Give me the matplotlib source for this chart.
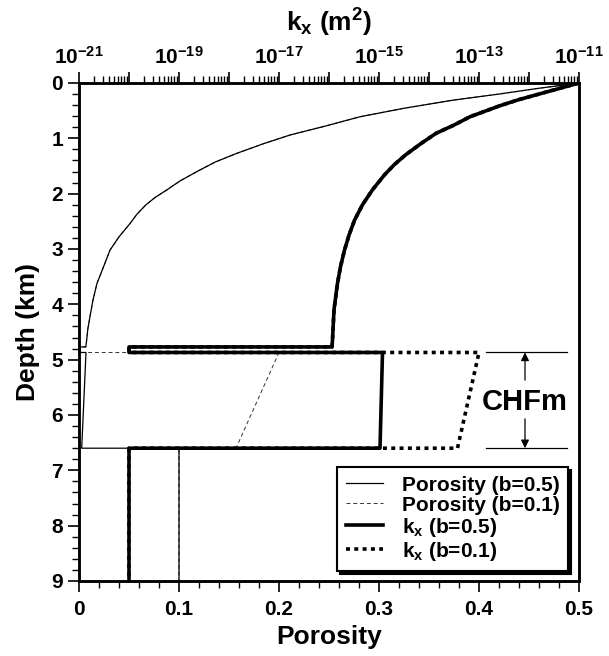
import matplotlib
matplotlib.use('Agg')
import matplotlib.pyplot as plt
import numpy as np
from matplotlib.ticker import FixedLocator, FuncFormatter, MultipleLocator
from matplotlib.lines import Line2D

plt.rcParams['font.family'] = ['Liberation Sans', 'DejaVu Sans']
plt.rcParams['font.weight'] = 'bold'
plt.rcParams['axes.labelweight'] = 'bold'
plt.rcParams['mathtext.fontset'] = 'custom'
plt.rcParams['mathtext.rm'] = 'Liberation Sans:bold'
plt.rcParams['mathtext.bf'] = 'Liberation Sans:bold'
plt.rcParams['mathtext.it'] = 'Liberation Sans:bold'
plt.rcParams['mathtext.sf'] = 'Liberation Sans:bold'
plt.rcParams['mathtext.default'] = 'regular'

# ---------------- data ----------------
# porosity above the seal (same for both b values)
depth_phi_upper = [0.0, 0.1, 0.2, 0.31, 0.46, 0.61, 0.78, 0.94, 1.1, 1.27, 1.43,
                   1.6, 1.77, 1.93, 2.07, 2.2, 2.37, 2.54, 2.78, 3.02, 3.3, 3.62,
                   3.92, 4.22, 4.45, 4.64, 4.77]
phi_upper = [0.5, 0.458, 0.42, 0.374, 0.324, 0.281, 0.246, 0.211, 0.184, 0.158, 0.136,
             0.118, 0.101, 0.088, 0.076, 0.067, 0.058, 0.051, 0.040, 0.031, 0.025, 0.018,
             0.014, 0.011, 0.0088, 0.0077, 0.0068]
# log10 permeability above the seal (same for both b values)
depth_k_upper = [0.0, 0.1, 0.2, 0.3, 0.41, 0.61, 0.76, 0.91, 1.1, 1.30, 1.48, 1.66,
                 1.93, 2.2, 2.48, 2.75, 3.02, 3.32, 3.62, 4.10, 4.64, 4.77]
logk_upper = [-11.0, -11.4, -11.8, -12.2, -12.58, -13.18, -13.5, -13.86, -14.17, -14.47,
              -14.7, -14.89, -15.13, -15.33, -15.49, -15.6, -15.69, -15.77, -15.83,
              -15.90, -15.93, -15.94]

z_seal_top = 4.77
z_chf_top = 4.87
z_chf_bot = 6.6
z_max = 9.0

phi_seal = 0.001
phi_chf_b05 = [0.007, 0.0027]
phi_chf_b01 = [0.2, 0.157]
phi_below = 0.1

logk_seal = -20.0
logk_chf_b05 = [-14.93, -14.98]
logk_chf_b01 = [-13.0, -13.43]
logk_below = -20.0

labels = ['Porosity (b=0.5)', 'Porosity (b=0.1)',
          r'k$_\mathregular{x}$ (b=0.5)', r'k$_\mathregular{x}$ (b=0.1)']

# ---------------- build profiles ----------------
tail_depth = [z_seal_top, z_chf_top, z_chf_top, z_chf_bot, z_chf_bot, z_max]


def phi_profile(chf):
    return phi_upper + [phi_seal, phi_seal, chf[0], chf[1], phi_below, phi_below]


def k_profile(chf):
    lk = logk_upper + [logk_seal, logk_seal, chf[0], chf[1], logk_below, logk_below]
    return [10.0 ** v for v in lk]


d_phi = depth_phi_upper + tail_depth
d_k = depth_k_upper + tail_depth
phi_b05 = phi_profile(phi_chf_b05)
phi_b01 = phi_profile(phi_chf_b01)
k_b05 = k_profile(logk_chf_b05)
k_b01 = k_profile(logk_chf_b01)

# ---------------- figure ----------------
W, H = 609, 656
fig = plt.figure(figsize=(W / 100, H / 100), dpi=100)
ax = fig.add_axes([79 / W, 1 - 581 / H, 500 / W, 498 / H])
ax2 = ax.twiny()

dash_thin = (0, (4, 3))
dot_thick = (0, (1.1, 1.2))

ax.plot(phi_b01, d_phi, color='#333333', lw=0.7, ls=dash_thin)
ax.plot(phi_b05, d_phi, color='k', lw=0.9)
ax2.plot(k_b01, d_k, color='k', lw=2.6, ls=dot_thick)
ax2.plot(k_b05, d_k, color='k', lw=2.6)

ax.set_xlim(0, 0.5)
ax.set_ylim(9, 0)
ax2.set_xscale('log')
ax2.set_xlim(1e-21, 1e-11)

# ticks
ax.xaxis.set_major_locator(MultipleLocator(0.1))
ax.xaxis.set_minor_locator(MultipleLocator(0.02))
ax.yaxis.set_major_locator(MultipleLocator(1))
ax.yaxis.set_minor_locator(MultipleLocator(0.2))
ax.xaxis.set_major_formatter(FuncFormatter(lambda v, p: '0' if abs(v) < 1e-9 else f'{v:.1f}'))

decades = np.arange(-21, -10)
ax2.xaxis.set_major_locator(FixedLocator(10.0 ** decades))
minors = [m * 10.0 ** e for e in decades[:-1] for m in range(2, 10)]
ax2.xaxis.set_minor_locator(FixedLocator(minors))


def top_fmt(v, p):
    e = int(round(np.log10(v)))
    return r'$10^{%d}$' % e if e % 2 != 0 else ''


ax2.xaxis.set_major_formatter(FuncFormatter(top_fmt))
ax2.xaxis.set_minor_formatter(FuncFormatter(lambda v, p: ''))

for a in (ax, ax2):
    a.tick_params(which='major', direction='out', length=8, width=1.2)
    a.tick_params(which='minor', direction='out', length=5, width=1.0)
    for s in a.spines.values():
        s.set_linewidth(1.8)
ax.tick_params(axis='both', which='both', right=False, top=False, labelsize=15)
ax.tick_params(axis='x', pad=6)
ax2.tick_params(axis='x', which='both', top=True, bottom=False, labelsize=15, pad=3)

ax.set_xlabel('Porosity', fontsize=19, labelpad=4)
ax.set_ylabel('Depth (km)', fontsize=19, labelpad=8)
ax2.set_xlabel(r'k$_\mathregular{x}$ (m$^\mathregular{2}$)', fontsize=19, labelpad=10)

# CHFm annotation
for z in (z_chf_top, z_chf_bot):
    ax.plot([0.407, 0.488], [z, z], color='k', lw=0.9)
xa = 0.446
arrow = dict(arrowstyle='-|>', color='k', lw=0.9, mutation_scale=12, shrinkA=0, shrinkB=0)
ax.annotate('', xy=(xa, z_chf_top), xytext=(xa, 5.37), arrowprops=arrow)
ax.annotate('', xy=(xa, z_chf_bot), xytext=(xa, 6.07), arrowprops=arrow)
ax.text(xa, 5.77, 'CHFm', fontsize=21, ha='center', va='center')

# legend
handles = [Line2D([], [], color='k', lw=0.9),
           Line2D([], [], color='#333333', lw=0.7, ls=dash_thin),
           Line2D([], [], color='k', lw=2.6),
           Line2D([], [], color='k', lw=2.6, ls=dot_thick)]
leg = ax2.legend(handles, labels, loc='lower right', bbox_to_anchor=(0.978, 0.02),
                 bbox_transform=ax.transAxes, frameon=True, fancybox=False,
                 edgecolor='k', framealpha=1, shadow={'color': 'k', 'alpha': 1},
                 fontsize=15, handlelength=1.8, labelspacing=0.05, borderaxespad=0,
                 borderpad=0.4, handletextpad=0.9)
leg.get_frame().set_linewidth(1.5)

fig.savefig('out.png', dpi=100)
